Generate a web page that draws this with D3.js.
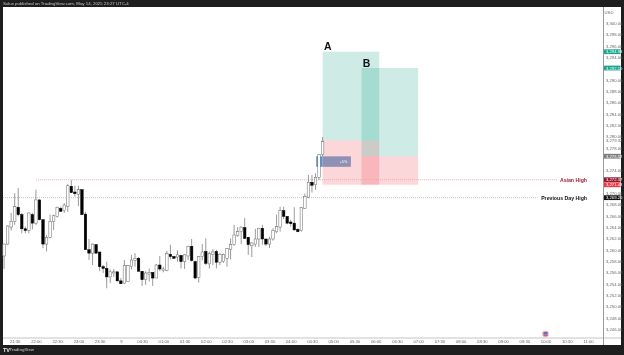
<!DOCTYPE html>
<html><head><meta charset="utf-8">
<script src="https://cdnjs.cloudflare.com/ajax/libs/d3/7.8.5/d3.min.js"></script>
<style>html,body{margin:0;padding:0;background:#1e1e1e}svg{display:block;filter:blur(0.35px)}text{font-family:"Liberation Sans",Arial,sans-serif}</style>
</head><body><svg id="c" width="624" height="355"></svg>
<script>
const opens=[3258.9,3261.0,3264.0,3265.0,3267.5,3266.2,3263.7,3263.4,3266.2,3264.7,3268.8,3265.3,3261.0,3262.2,3265.0,3265.9,3267.3,3266.9,3267.7,3271.2,3270.2,3269.8,3270.6,3266.3,3260.0,3259.4,3260.9,3259.6,3257.0,3256.7,3255.2,3255.9,3256.1,3254.5,3254.1,3254.4,3257.0,3258.1,3258.5,3256.2,3254.7,3255.7,3256.0,3255.0,3257.3,3256.3,3256.3,3259.2,3258.8,3258.7,3259.0,3257.9,3258.9,3260.6,3257.9,3255.1,3258.8,3259.7,3257.5,3259.2,3259.7,3257.8,3257.9,3258.5,3260.1,3260.9,3262.5,3263.2,3263.9,3262.2,3260.7,3261.0,3261.9,3263.8,3261.9,3261.0,3261.9,3263.2,3264.0,3266.9,3265.9,3264.9,3264.7,3263.6,3263.4,3267.3,3269.3,3271.9,3271.5,3272.8,3276.8];
const closes=[3261.0,3264.2,3265.0,3267.6,3266.2,3263.7,3263.4,3266.5,3264.7,3268.8,3265.3,3261.0,3262.2,3265.0,3266.0,3267.5,3266.8,3267.9,3271.3,3270.1,3269.9,3270.6,3266.2,3260.0,3259.4,3261.0,3259.4,3257.0,3256.7,3255.2,3256.1,3256.1,3254.5,3254.0,3257.2,3257.2,3258.2,3258.5,3256.2,3254.7,3255.9,3256.0,3255.0,3257.3,3256.6,3256.6,3259.3,3258.8,3258.5,3259.1,3257.9,3259.1,3260.6,3258.1,3255.0,3258.8,3259.6,3257.6,3259.3,3259.6,3257.8,3259.2,3259.2,3260.2,3260.9,3262.6,3263.2,3264.0,3262.0,3260.9,3261.2,3261.9,3263.8,3261.9,3261.0,3261.9,3263.4,3264.1,3266.9,3265.9,3264.7,3264.6,3263.5,3263.2,3267.5,3269.4,3271.9,3271.4,3272.8,3276.8,3279.1];
const highs=[3261.1,3264.3,3266.5,3270.0,3270.9,3266.5,3264.1,3266.6,3266.5,3270.6,3268.9,3265.3,3262.6,3266.2,3266.2,3267.6,3267.6,3268.2,3271.6,3272.3,3271.3,3271.3,3270.7,3266.7,3261.9,3261.1,3261.0,3259.6,3257.3,3257.9,3256.5,3256.6,3256.1,3255.0,3258.2,3257.3,3259.1,3259.4,3258.7,3256.2,3256.2,3256.7,3256.0,3257.5,3258.9,3257.0,3259.8,3260.9,3258.9,3259.9,3259.1,3259.2,3260.7,3261.9,3258.1,3258.9,3261.0,3262.0,3259.7,3260.1,3260.0,3259.4,3259.3,3260.3,3262.0,3264.4,3264.0,3264.1,3265.6,3262.3,3261.3,3263.7,3263.8,3264.4,3261.9,3262.3,3263.8,3266.2,3267.6,3267.6,3265.9,3265.3,3267.5,3263.8,3267.6,3269.9,3273.2,3273.2,3273.5,3276.9,3279.9];
const lows=[3256.6,3260.9,3263.4,3264.4,3265.9,3262.9,3262.9,3262.9,3263.6,3264.4,3265.2,3260.3,3259.7,3262.0,3263.5,3265.7,3266.7,3266.5,3266.7,3270.0,3269.4,3267.7,3266.2,3260.0,3258.2,3257.3,3259.3,3256.2,3255.9,3253.2,3254.1,3255.2,3254.4,3254.0,3254.0,3254.4,3256.5,3257.0,3256.2,3253.6,3253.8,3254.4,3253.6,3255.0,3256.2,3256.0,3256.2,3258.3,3258.4,3257.9,3256.7,3256.6,3258.2,3257.9,3254.8,3254.2,3258.1,3257.3,3256.7,3257.3,3256.7,3257.3,3257.7,3257.0,3258.3,3260.7,3262.3,3261.0,3261.9,3259.1,3258.7,3260.5,3260.5,3260.9,3260.7,3260.3,3261.6,3262.9,3263.2,3265.4,3264.5,3264.1,3263.4,3263.1,3263.2,3267.2,3269.1,3270.1,3270.6,3272.3,3276.5];
const firstCandleMinute=-15, candleStep=5;
const timeLabels=["21:30","22:00","22:30","23:00","23:30","9","00:30","01:00","01:30","02:00","02:30","03:00","03:30","04:00","04:30","05:00","05:30","06:00","06:30","07:00","07:30","08:00","08:30","09:00","09:30","10:00","10:30","11:00"];
const priceTags=[{p:3294.98,f:"#1aa58e"},{p:3292.10,f:"#1aa58e"},{p:3276.52,f:"#7f7f7f"},{p:3272.37,f:"#8e1b30"},{p:3271.48,f:"#f23645"},{p:3269.2,f:"#111"}];
const priceTicks=d3.range(3246,3301,2).filter(t=>!priceTags.some(g=>Math.abs(g.p-t)<0.6));
const longA={t0:435,t1:515,target:3294.98,entry:3279.32,stop:3271.48};
const longB={t0:490,t1:570,target:3292.10,entry:3276.52,stop:3271.48};
const levels=[{name:"Asian High",price:3272.37,t0:30,t1:766,line:"#e3a3ac",text:"#9a1f35"},{name:"Previous Day High",price:3269.2,t0:-17,t1:739,line:"#b5b5b5",text:"#111"}];
const extraLabel=3279.32;

const svg=d3.select("#c");
const W={l:3,r:621,t:7,b:345,ax:603.5,ay:338};
const x=d3.scaleLinear().domain([0,810]).range([14.7,588]);
const y=d3.scaleLinear().domain([3246,3300]).range([329,23.3]);
svg.append("rect").attr("width",624).attr("height",355).attr("fill","#1e1e1e");
svg.append("rect").attr("x",W.l).attr("y",W.t).attr("width",W.r-W.l).attr("height",W.b-W.t).attr("fill","#fff");
svg.append("text").attr("x",3).attr("y",5).attr("font-size",4.35).attr("fill","#c8c8c8").text("Solus published on TradingView.com, May 14, 2025 23:27 UTC-4");

const zone=(t0,t1,a,b,f)=>svg.append("rect").attr("x",x(t0)).attr("width",x(t1)-x(t0)).attr("y",y(Math.max(a,b))).attr("height",Math.abs(y(a)-y(b))).attr("fill",f);
[longA,longB].forEach(d=>{zone(d.t0,d.t1,d.target,d.entry,"rgba(8,153,129,0.2)");zone(d.t0,d.t1,d.entry,d.stop,"rgba(242,54,69,0.2)");});
zone(426,435,3276.5,3274.65,"#5b93c8");
zone(435,475,3276.5,3274.65,"#8f90b6");
svg.append("text").attr("x",x(470)).attr("y",y(3275.3)).attr("text-anchor","end").attr("font-size",3.8).attr("fill","#fff").text("+5%");

levels.forEach(d=>{
 svg.append("line").attr("x1",Math.max(W.l,x(d.t0))).attr("x2",x(d.t1)).attr("y1",y(d.price)).attr("y2",y(d.price)).attr("stroke",d.line).attr("stroke-width",.8).attr("stroke-dasharray","1 1");
 svg.append("text").attr("x",587).attr("y",y(d.price)+1.9).attr("text-anchor","end").attr("font-size",5.2).attr("font-weight","bold").attr("fill",d.text).text(d.name);
});
svg.append("g").selectAll("text").data([["A",327.8,49.5],["B",366.6,66.5]]).join("text").attr("x",d=>d[1]).attr("y",d=>d[2]).attr("text-anchor","middle").attr("font-size",10.5).attr("font-weight","bold").attr("fill","#111").text(d=>d[0]);

const candles=opens.map((o,i)=>({t:firstCandleMinute+i*candleStep,o,c:closes[i],h:highs[i],l:lows[i]}));
const cg=svg.append("g").selectAll("g").data(candles).join("g");
cg.append("line").attr("x1",d=>x(d.t)).attr("x2",d=>x(d.t)).attr("y1",d=>y(d.h)).attr("y2",d=>y(d.l)).attr("stroke","#555").attr("stroke-width",.6);
cg.append("rect").attr("x",d=>x(d.t)-1.25).attr("width",2.5).attr("y",d=>y(Math.max(d.o,d.c))).attr("height",d=>Math.max(.8,Math.abs(y(d.o)-y(d.c))))
 .attr("fill",d=>d.c>=d.o?"#fff":"#000").attr("stroke",d=>d.c>=d.o?"#666":"#000").attr("stroke-width",.5);

// axes
const xAxis=d3.axisBottom(x).tickValues(timeLabels.map((_,i)=>i*30)).tickFormat((_,i)=>timeLabels[i]).tickSize(0).tickPadding(0);
const gx=svg.append("g").attr("transform",`translate(0,${W.ay})`).call(xAxis);
gx.select(".domain").remove();
gx.selectAll("text").attr("y",1.9).attr("font-size",4.2).attr("fill","#666").attr("dy",".71em").style("font-family",'"Liberation Sans",Arial,sans-serif');
const yAxis=d3.axisRight(y).tickValues(priceTicks).tickFormat(d3.format(",.2f")).tickSize(0).tickPadding(0);
const gy=svg.append("g").attr("transform",`translate(${W.ax},0)`).call(yAxis);
gy.select(".domain").remove();
gy.selectAll("text").attr("x",2.5).attr("font-size",4.2).attr("fill","#666").style("font-family",'"Liberation Sans",Arial,sans-serif');
svg.append("text").attr("x",609).attr("y",13.5).attr("text-anchor","middle").attr("font-size",4.2).attr("fill","#666").text("USD");
svg.append("text").attr("x",W.ax+2.5).attr("y",y(extraLabel)+1.5).attr("font-size",4.2).attr("fill","#666").text(d3.format(",.2f")(extraLabel));
svg.append("line").attr("x1",W.l).attr("x2",W.r).attr("y1",W.ay).attr("y2",W.ay).attr("stroke","#c4c4c4").attr("stroke-width",1);
svg.append("line").attr("x1",W.ax).attr("x2",W.ax).attr("y1",W.t).attr("y2",W.b).attr("stroke","#9a9a9a").attr("stroke-width",1);

const tags=svg.append("g").selectAll("g").data(priceTags).join("g").attr("transform",d=>`translate(${W.ax+.5},${y(d.p)})`);
tags.append("rect").attr("y",-2.4).attr("width",16.5).attr("height",4.8).attr("fill",d=>d.f);
tags.append("text").attr("x",2).attr("y",1.5).attr("font-size",4.2).attr("fill","#fff").text(d=>d3.format(",.2f")(d.p));

// event flag
const fx=x(750);
svg.append("circle").attr("cx",fx).attr("cy",334).attr("r",3.2).attr("fill","#f4a6ad");
svg.append("rect").attr("x",fx-2).attr("y",332).attr("width",4).attr("height",2.6).attr("fill","#4a78c8");
svg.append("rect").attr("x",fx-2).attr("y",335).attr("width",4).attr("height",.8).attr("fill","#e2414f");

// logo
svg.append("text").attr("x",3).attr("y",351.5).attr("font-size",5.5).attr("font-weight","bold").attr("fill","#e8e8e8").text("TV");
svg.append("text").attr("x",9.5).attr("y",351.3).attr("font-size",4.2).attr("font-weight","bold").attr("fill","#aaa").text("TradingView");
</script></body></html>
